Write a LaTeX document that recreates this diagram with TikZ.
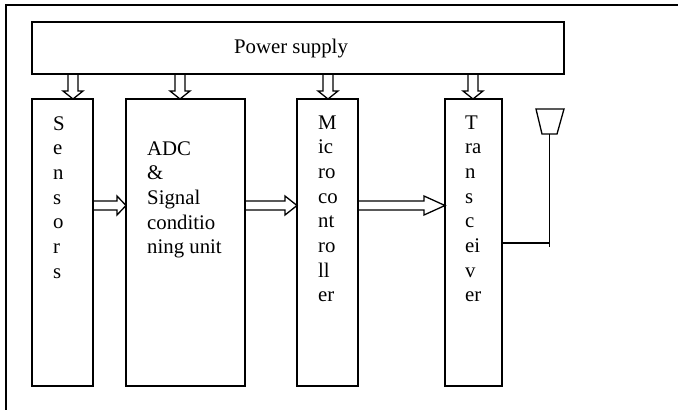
\documentclass[tikz,border=0pt]{standalone}
\usepackage{fontspec}
\setmainfont{Liberation Serif}
\usetikzlibrary{calc}
\newcommand\colstack[1]{\vtop{\baselineskip=24.7pt\lineskiplimit=-100pt\lineskip=0pt #1}}
\newcommand\rowline[1]{\hbox{#1}}
\tikzset{
  blk/.style={draw, line width=1.3pt, inner sep=0pt, outer sep=0pt, rectangle},
  lbl/.style={inner sep=0pt, anchor=base west, font=\fontsize{20.8}{24.7}\selectfont},
  harrow/.style={line width=1.3pt, line join=miter, to path={
    let \p1=(\tikztostart), \p2=(\tikztotarget) in
    (\x1,\y1+4.5pt) -- (\x2-#1pt,\y1+4.5pt) -- (\x2-#1pt,\y1+9.5pt) -- (\x2,\y1)
    -- (\x2-#1pt,\y1-9.5pt) -- (\x2-#1pt,\y1-4.5pt) -- (\x1,\y1-4.5pt) -- cycle}},
  varrow/.style={line width=1.3pt, line join=miter, to path={
    let \p1=(\tikztostart), \p2=(\tikztotarget) in
    (\x1-5pt,\y1) -- (\x1-5pt,\y2+#1pt) -- (\x1-10pt,\y2+#1pt) -- (\x1,\y2)
    -- (\x1+10pt,\y2+#1pt) -- (\x1+5pt,\y2+#1pt) -- (\x1+5pt,\y1) -- cycle}},
}
\begin{document}
\begin{tikzpicture}[x=1pt,y=-1pt]
\useasboundingbox (0,0) rectangle (678,410);
% outer frame
\draw[line width=1.8pt] (6,410) -- (6,5) -- (678,5);
% boxes
\node[blk, minimum width=532pt, minimum height=52pt] (power) at (298,48) {};
\node[blk, minimum width=61pt, minimum height=287pt] (sens) at (62.5,242.5) {};
\node[blk, minimum width=119pt, minimum height=287pt] (adc) at (185.5,242.5) {};
\node[blk, minimum width=61pt, minimum height=287pt] (micro) at (327.5,242.5) {};
\node[blk, minimum width=57pt, minimum height=287pt] (trans) at (473.5,242.5) {};
% texts
\node[lbl, anchor=base] (ptext) at (291,53) {Power supply};
\node[lbl] (stext) at (53,130) {\colstack{\rowline{S}\rowline{e}\rowline{n}\rowline{s}\rowline{o}\rowline{r}\rowline{s}}};
\node[lbl] (atext) at (147,155) {\colstack{\rowline{ADC}\rowline{\&}\rowline{Signal}\rowline{conditio}\rowline{ning unit}}};
\node[lbl] (mtext) at (318,129) {\colstack{\rowline{M}\rowline{ic}\rowline{ro}\rowline{co}\rowline{nt}\rowline{ro}\rowline{ll}\rowline{er}}};
\node[lbl] (ttext) at (465,129) {\colstack{\rowline{T}\rowline{ra}\rowline{n}\rowline{s}\rowline{c}\rowline{ei}\rowline{v}\rowline{er}}};
% power arrows
\coordinate (xs) at (73,0);
\coordinate (xa) at (180,0);
\coordinate (xm) at (328,0);
\coordinate (xt) at (473,0);
\draw[varrow=8] (power.south -| xs) to (sens.north -| xs);
\draw[varrow=8] (power.south -| xa) to (adc.north -| xa);
\draw[varrow=8] (power.south -| xm) to (micro.north -| xm);
\draw[varrow=8] (power.south -| xt) to (trans.north -| xt);
% signal arrows
\coordinate (ay) at (0,205.5);
\draw[harrow=9] (sens.east |- ay) to (adc.west |- ay);
\draw[harrow=12] (adc.east |- ay) to (micro.west |- ay);
\draw[harrow=21] (micro.east |- ay) to (trans.west |- ay);
% antenna
\coordinate (ant) at (549.5,134);
\coordinate (feed) at (549.5,243);
\draw[line width=1.3pt, line join=miter] (536,109) -- (564,109) -- (557,134) -- (542,134) -- cycle;
\draw[line width=1.3pt] (ant) -- ($(feed)+(0,4)$);
\draw[line width=1.3pt] (trans.east |- feed) -- (feed);
\end{tikzpicture}
\end{document}
